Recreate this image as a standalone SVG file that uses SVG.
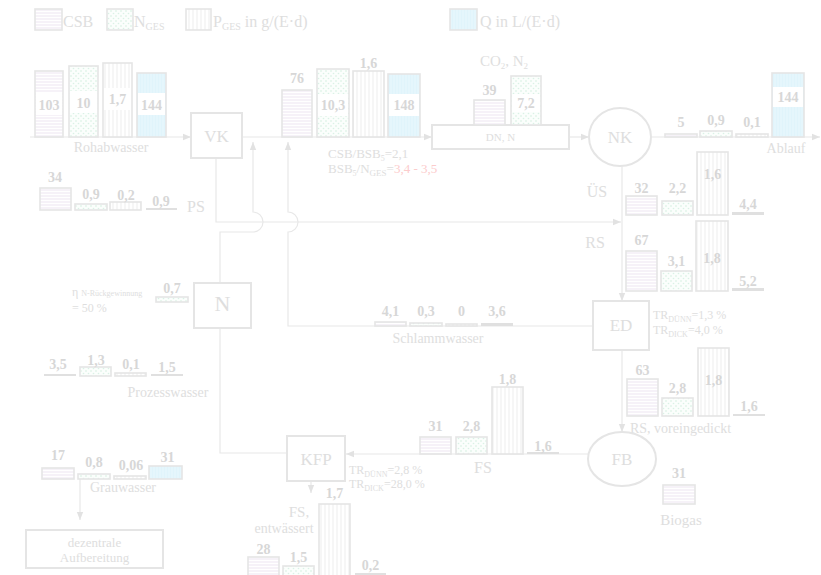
<svg xmlns="http://www.w3.org/2000/svg" width="821" height="575" viewBox="0 0 821 575">
<defs>
<pattern id="pc" width="4" height="3" patternUnits="userSpaceOnUse"><rect width="4" height="3" fill="#fff"/><line x1="0" y1="1" x2="4" y2="1" stroke="#ede6f2" stroke-width="1"/></pattern>
<pattern id="pn" width="5" height="5" patternUnits="userSpaceOnUse"><rect width="5" height="5" fill="#fbfefc"/><circle cx="1" cy="1" r="0.8" fill="#d2efdf"/><circle cx="3.5" cy="3.5" r="0.8" fill="#daf2e6"/></pattern>
<pattern id="pp" width="4" height="4" patternUnits="userSpaceOnUse"><rect width="4" height="4" fill="#fff"/><line x1="1" y1="0" x2="1" y2="4" stroke="#eeeeee"/></pattern>
<pattern id="pq" width="3" height="4" patternUnits="userSpaceOnUse"><rect width="3" height="4" fill="#e0f4fb"/><line x1="1" y1="0" x2="1" y2="4" stroke="#ebf8fd"/></pattern>
<marker id="ar" viewBox="0 0 10 10" refX="10" refY="5" markerWidth="8" markerHeight="8" orient="auto" markerUnits="userSpaceOnUse"><path d="M0,1 L10,5 L0,9 z" fill="#e2e2e2"/></marker>
</defs>
<style>
.ln{stroke:#e8e8e8;stroke-width:1.2;fill:none}
.box{fill:#fff;stroke:#e5e5e5;stroke-width:2}
.bar{stroke:#e5e5e5;stroke-width:1.6}
.c{fill:url(#pc)}
.n{fill:url(#pn)}
.p{fill:url(#pp)}
.q{fill:url(#pq)}
.g{fill:#e0e0e0}
.wb{fill:#fff}
text{font-family:"Liberation Serif","Times New Roman",serif;fill:#dedede}
.num{font-weight:bold;font-size:14px;fill:#d7d7d7;text-anchor:middle}
.lbl{font-size:14px;text-anchor:middle}
.big{font-size:17px;text-anchor:middle}
.sm{font-size:12px}
.red{fill:#fccccc}
</style>
<rect width="821" height="575" fill="#fff"/>

<g id="connectors">
<path class="ln" d="M30,137 H191" marker-end="url(#ar)"/>
<path class="ln" d="M242,137 H432" marker-end="url(#ar)"/>
<path class="ln" d="M569,137 H589" marker-end="url(#ar)"/>
<path class="ln" d="M651,137 H820" marker-end="url(#ar)"/>
<path class="ln" d="M622,166 V301" marker-end="url(#ar)"/>
<path class="ln" d="M216,158 V222 H621" marker-end="url(#ar)"/>
<path class="ln" d="M220,283 V232 H253 A10,10 0 0 0 253,212 V142" marker-end="url(#ar)"/>
<path class="ln" d="M593,326 H288 V232 A10,10 0 0 0 288,212 V142" marker-end="url(#ar)"/>
<path class="ln" d="M220,328 V453 H287"/>
<path class="ln" d="M588,454 H346" marker-end="url(#ar)"/>
<path class="ln" d="M622,350 V432" marker-end="url(#ar)"/>
<path class="ln" d="M311,481 V493" marker-end="url(#ar)"/>
<path class="ln" d="M80,479 V520" marker-end="url(#ar)"/>
</g>

<g id="legend">
<rect class="bar c" x="35" y="9" width="27" height="21"/>
<text x="63" y="27" font-size="16">CSB</text>
<rect class="bar n" x="107" y="9" width="26" height="21"/>
<text x="134" y="27" font-size="16">N<tspan font-size="10" dy="3">GES</tspan></text>
<rect class="bar p" x="186" y="9" width="25" height="21"/>
<text x="213" y="27" font-size="16">P<tspan font-size="10" dy="3">GES</tspan><tspan dy="-3"> in g/(E·d)</tspan></text>
<rect class="bar q" x="450" y="9" width="27" height="21"/>
<text x="480" y="27" font-size="16">Q in L/(E·d)</text>
</g>

<g id="rohabwasser">
<rect class="bar c" x="35" y="71" width="28" height="66"/>
<rect class="wb" x="36" y="93" width="26" height="22"/>
<text class="num" x="49" y="110">103</text>
<rect class="bar n" x="69" y="66" width="29" height="71"/>
<rect class="wb" x="70" y="91" width="27" height="22"/>
<text class="num" x="83.5" y="108">10</text>
<rect class="bar p" x="103" y="63" width="29" height="74"/>
<rect class="wb" x="104" y="88" width="27" height="22"/>
<text class="num" x="117.5" y="104">1,7</text>
<rect class="bar q" x="137" y="73" width="29" height="64"/>
<rect class="wb" x="138" y="93" width="27" height="22"/>
<text class="num" x="151.5" y="110">144</text>
<text class="lbl" x="111" y="152">Rohabwasser</text>
</g>

<g id="VK">
<rect class="box" x="191" y="113" width="51" height="45"/>
<text class="big" x="216.5" y="142">VK</text>
</g>

<g id="zulauf-bio">
<rect class="bar c" x="282" y="90" width="30" height="47"/>
<text class="num" x="297" y="83">76</text>
<rect class="bar n" x="317" y="69" width="32" height="68"/>
<rect class="wb" x="318" y="94" width="30" height="22"/>
<text class="num" x="333" y="110">10,3</text>
<rect class="bar p" x="353" y="71" width="31" height="66"/>
<text class="num" x="368.5" y="68">1,6</text>
<rect class="bar q" x="388" y="74" width="32" height="63"/>
<rect class="wb" x="389" y="94" width="30" height="22"/>
<text class="num" x="404" y="110">148</text>
<text x="328" y="158" font-size="13">CSB/BSB<tspan font-size="8" dy="3">5</tspan><tspan dy="-3">=2,1</tspan></text>
<text x="328" y="173" font-size="13">BSB<tspan font-size="8" dy="3">5</tspan><tspan dy="-3">/N</tspan><tspan font-size="9" dy="3">GES</tspan><tspan dy="-3">=</tspan><tspan class="red">3,4 - 3,5</tspan></text>
</g>

<g id="DN">
<rect class="box" x="432" y="125" width="137" height="24"/>
<text x="500.5" y="141" font-size="11" text-anchor="middle">DN, N</text>
<rect class="bar c" x="474" y="100" width="31" height="25"/>
<text class="num" x="489.5" y="95">39</text>
<rect class="bar n" x="511" y="76" width="30" height="49"/>
<rect class="wb" x="512" y="94" width="28" height="18"/>
<text class="num" x="526" y="108">7,2</text>
<text x="504" y="66" font-size="15" text-anchor="middle">CO<tspan font-size="9" dy="3">2</tspan><tspan dy="-3">, N</tspan><tspan font-size="9" dy="3">2</tspan></text>
</g>

<g id="NK">
<ellipse cx="620" cy="137" rx="31" ry="29" fill="#fff" stroke="#e5e5e5" stroke-width="2"/>
<text class="big" x="620" y="143">NK</text>
</g>

<g id="ablauf">
<rect class="bar c" x="665" y="134" width="32" height="3"/>
<text class="num" x="681" y="127">5</text>
<rect class="bar n" x="700" y="131" width="32" height="6"/>
<text class="num" x="716" y="125">0,9</text>
<rect class="bar p" x="736" y="134" width="32" height="3"/>
<text class="num" x="752" y="127">0,1</text>
<rect class="bar q" x="772" y="73" width="32" height="64"/>
<rect class="wb" x="773" y="87" width="30" height="20"/>
<text class="num" x="788" y="102">144</text>
<text class="lbl" x="786" y="153">Ablauf</text>
</g>

<g id="US">
<text x="597" y="197" font-size="16" text-anchor="middle">ÜS</text>
<rect class="bar c" x="626" y="196" width="31" height="19"/>
<text class="num" x="641.5" y="193">32</text>
<rect class="bar n" x="662" y="201" width="31" height="14"/>
<text class="num" x="677.5" y="193">2,2</text>
<rect class="bar p" x="697" y="152" width="31" height="63"/>
<text class="num" x="712.5" y="179">1,6</text>
<rect class="g" x="732" y="212" width="32" height="3"/>
<text class="num" x="748" y="209">4,4</text>
</g>

<g id="RS">
<text x="595" y="248" font-size="16" text-anchor="middle">RS</text>
<rect class="bar c" x="626" y="251" width="31" height="40"/>
<text class="num" x="641.5" y="245">67</text>
<rect class="bar n" x="661" y="271" width="31" height="20"/>
<text class="num" x="676.5" y="266">3,1</text>
<rect class="bar p" x="696" y="221" width="32" height="70"/>
<text class="num" x="712" y="263">1,8</text>
<rect class="g" x="732" y="288" width="32" height="3"/>
<text class="num" x="748" y="286">5,2</text>
</g>

<g id="PS">
<rect class="bar c" x="40" y="188" width="31" height="22"/>
<text class="num" x="55" y="182">34</text>
<rect class="bar n" x="75" y="204" width="32" height="6"/>
<text class="num" x="91" y="199">0,9</text>
<rect class="bar p" x="110" y="202" width="31" height="8"/>
<text class="num" x="126" y="200">0,2</text>
<rect class="g" x="146" y="208" width="31" height="2"/>
<text class="num" x="161" y="206">0,9</text>
<text x="187" y="212" font-size="16">PS</text>
</g>

<g id="N">
<rect class="box" x="194" y="283" width="57" height="45"/>
<text x="222.5" y="311" font-size="22" text-anchor="middle">N</text>
<text x="72" y="296" font-size="12">η<tspan font-size="8" dx="1"> N-Rückgewinnung</tspan></text>
<text x="72" y="312" font-size="12">= 50 %</text>
<rect class="bar n" x="156" y="297" width="32" height="5"/>
<text class="num" x="172" y="293">0,7</text>
</g>

<g id="schlammwasser">
<rect class="bar c" x="375" y="322" width="31" height="4"/>
<text class="num" x="390.5" y="316">4,1</text>
<rect class="bar n" x="410" y="323" width="32" height="3"/>
<text class="num" x="426" y="316">0,3</text>
<rect class="bar p" x="446" y="324" width="31" height="2"/>
<text class="num" x="461.5" y="316">0</text>
<rect class="g" x="481" y="323" width="32" height="3"/>
<text class="num" x="497" y="316">3,6</text>
<text class="lbl" x="438" y="343">Schlammwasser</text>
</g>

<g id="ED">
<rect class="box" x="593" y="301" width="56" height="49"/>
<text class="big" x="621" y="331">ED</text>
<text x="653" y="319" class="sm">TR<tspan font-size="8" dy="3">DÜNN</tspan><tspan dy="-3">=1,3 %</tspan></text>
<text x="653" y="334" class="sm">TR<tspan font-size="8" dy="3">DICK</tspan><tspan dy="-3">=4,0 %</tspan></text>
</g>

<g id="prozesswasser">
<rect class="g" x="44" y="374" width="32" height="2"/>
<text class="num" x="58" y="369">3,5</text>
<rect class="bar n" x="80" y="367" width="31" height="9"/>
<text class="num" x="96" y="365">1,3</text>
<rect class="bar p" x="115" y="373" width="31" height="3"/>
<text class="num" x="131" y="369">0,1</text>
<rect class="g" x="151" y="374" width="32" height="2"/>
<text class="num" x="167" y="372">1,5</text>
<text class="lbl" x="168" y="397">Prozesswasser</text>
</g>

<g id="RS-voreingedickt">
<rect class="bar c" x="627" y="379" width="31" height="37"/>
<text class="num" x="642.5" y="375">63</text>
<rect class="bar n" x="662" y="398" width="31" height="18"/>
<text class="num" x="677.5" y="393">2,8</text>
<rect class="bar p" x="698" y="348" width="31" height="68"/>
<text class="num" x="713.5" y="385">1,8</text>
<rect class="g" x="733" y="414" width="32" height="2"/>
<text class="num" x="749" y="411">1,6</text>
<text x="630" y="433" font-size="14">RS, voreingedickt</text>
</g>

<g id="FS">
<rect class="bar c" x="420" y="437" width="31" height="17"/>
<text class="num" x="435.5" y="431">31</text>
<rect class="bar n" x="456" y="437" width="31" height="17"/>
<text class="num" x="471.5" y="431">2,8</text>
<rect class="bar p" x="492" y="387" width="31" height="67"/>
<text class="num" x="507.5" y="384">1,8</text>
<rect class="g" x="527" y="452" width="32" height="2"/>
<text class="num" x="543" y="451">1,6</text>
<text x="483" y="473" font-size="16" text-anchor="middle">FS</text>
</g>

<g id="FB">
<ellipse cx="622" cy="459" rx="34" ry="27" fill="#fff" stroke="#e5e5e5" stroke-width="2"/>
<text class="big" x="622" y="465">FB</text>
</g>

<g id="biogas">
<rect class="bar c" x="663" y="485" width="32" height="19"/>
<text class="num" x="679" y="478">31</text>
<text x="681" y="525" font-size="15" text-anchor="middle">Biogas</text>
</g>

<g id="KFP">
<rect class="box" x="287" y="436" width="58" height="45"/>
<text class="big" x="316" y="465">KFP</text>
<text x="349" y="474" font-size="12">TR<tspan font-size="8" dy="3">DÜNN</tspan><tspan dy="-3">=2,8 %</tspan></text>
<text x="349" y="488" font-size="12">TR<tspan font-size="8" dy="3">DICK</tspan><tspan dy="-3">=28,0 %</tspan></text>
</g>

<g id="FS-entwaessert">
<text x="299" y="517" font-size="15" text-anchor="middle">FS,</text>
<text x="284" y="533" font-size="14" text-anchor="middle">entwässert</text>
<rect class="bar c" x="248" y="557" width="31" height="22"/>
<text class="num" x="263.5" y="554">28</text>
<rect class="bar n" x="283" y="566" width="31" height="13"/>
<text class="num" x="298.5" y="562">1,5</text>
<rect class="bar p" x="319" y="504" width="31" height="75"/>
<text class="num" x="334.5" y="498">1,7</text>
<rect class="g" x="355" y="573" width="31" height="4"/>
<text class="num" x="370.5" y="570">0,2</text>
</g>

<g id="grauwasser">
<rect class="bar c" x="42" y="468" width="32" height="11"/>
<text class="num" x="58" y="460">17</text>
<rect class="bar n" x="78" y="474" width="32" height="5"/>
<text class="num" x="94" y="467">0,8</text>
<rect class="bar p" x="114" y="476" width="32" height="3"/>
<text class="num" x="131" y="470">0,06</text>
<rect class="bar q" x="149" y="466" width="33" height="13"/>
<text class="num" x="167.5" y="462">31</text>
<text class="lbl" x="123" y="492">Grauwasser</text>
</g>

<g id="dezentrale-aufbereitung">
<rect class="box" x="26" y="530" width="137" height="38"/>
<text x="94.5" y="547" font-size="13" text-anchor="middle">dezentrale</text>
<text x="94.5" y="562" font-size="13" text-anchor="middle">Aufbereitung</text>
</g>
</svg>
